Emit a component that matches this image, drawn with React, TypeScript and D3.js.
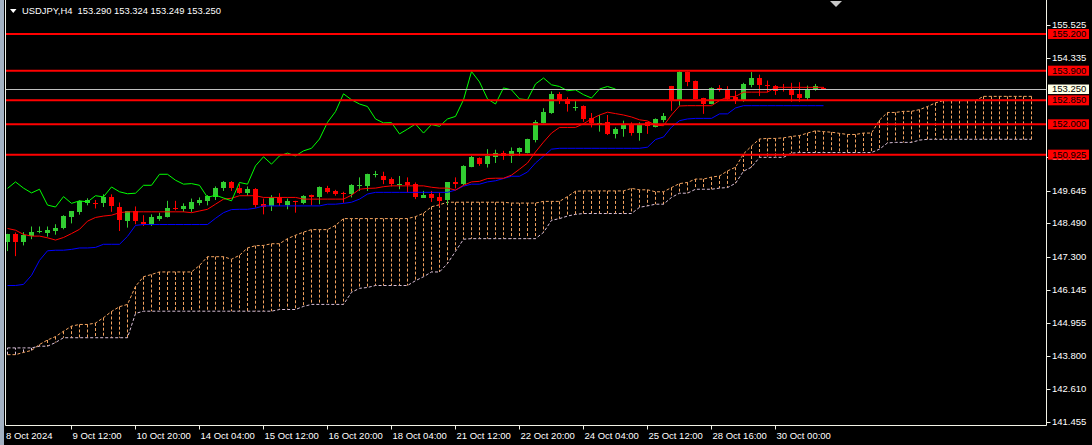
import React from 'react';
import * as d3 from 'd3';

// ---------- DATA (USDJPY H4, bar 0 = 8 Oct 2024 04:00) ----------
const open = [147.83,148.10,147.83,148.05,148.17,148.14,148.21,148.33,148.72,148.90,
149.23,149.23,149.20,149.43,149.06,148.58,148.92,148.54,148.43,148.66,
148.70,149.05,148.99,148.99,149.20,149.28,149.44,149.73,149.96,149.74,
149.56,149.70,149.17,149.09,149.44,149.14,149.28,149.23,149.49,149.43,
149.74,149.62,149.57,149.53,149.83,149.82,150.22,150.17,150.06,149.89,
149.94,149.88,149.39,149.53,149.41,149.32,149.96,149.88,150.49,150.79,
150.59,150.83,150.98,150.88,151.03,150.98,151.44,152.05,152.40,153.08,
152.90,152.62,152.66,152.22,152.05,152.09,151.66,151.83,152.01,151.69,
152.07,151.91,152.16,153.35,152.87,153.87,153.55,152.93,152.72,153.29,
153.25,152.98,152.84,153.40,153.64,153.41,153.35,153.25,153.25,153.08,
152.93,153.23,153.290];
const high = [148.12,148.17,148.18,148.38,148.38,148.38,148.46,148.78,148.93,149.31,
149.38,149.32,149.52,149.52,149.23,148.93,149.09,148.78,148.81,148.87,
149.29,149.29,149.20,149.37,149.41,149.49,149.80,149.99,149.99,149.88,
149.80,149.74,149.37,149.49,149.56,149.37,149.29,149.49,149.51,149.80,
149.82,149.68,149.61,149.88,150.12,150.25,150.35,150.32,150.12,150.17,
150.12,149.94,149.64,149.64,149.59,149.95,150.12,150.55,150.88,150.83,
151.12,151.10,151.06,151.18,151.18,151.49,152.15,152.57,153.17,153.14,
152.96,152.82,152.67,152.40,152.33,152.33,151.89,152.13,152.07,152.07,
152.09,152.21,152.40,153.36,153.90,153.87,153.55,152.94,153.31,153.39,
153.35,153.19,153.47,153.85,153.76,153.55,153.39,153.43,153.47,153.49,
153.37,153.43,153.324];
const low = [147.51,147.33,147.71,147.93,148.14,148.02,148.09,148.28,148.49,148.80,
149.13,149.02,149.07,148.90,148.22,148.34,148.46,148.40,148.40,148.58,
148.70,148.95,148.90,148.90,149.13,149.13,149.32,149.64,149.64,149.53,
149.47,149.05,148.81,148.93,149.11,148.99,148.87,149.17,149.13,149.17,
149.55,149.47,149.22,149.41,149.64,149.64,150.12,149.88,149.80,149.70,
149.59,149.35,149.39,149.25,149.09,149.17,149.73,149.84,150.48,150.53,
150.47,150.63,150.74,150.63,150.88,150.97,151.36,152.03,152.37,152.72,
152.45,152.48,152.09,151.89,151.74,151.62,151.50,151.56,151.60,151.42,
151.66,151.89,152.07,152.48,152.66,153.35,152.89,152.37,152.71,153.16,
152.87,152.72,152.80,153.31,153.00,153.14,153.04,153.16,152.80,152.80,
152.86,153.19,153.249];
const close = [148.10,147.83,148.07,148.19,148.22,148.26,148.34,148.74,148.92,149.28,
149.31,149.22,149.43,149.09,148.61,148.92,148.58,148.46,148.70,148.75,
149.05,148.99,149.11,149.25,149.32,149.47,149.73,149.96,149.74,149.57,
149.70,149.14,149.07,149.44,149.20,149.29,149.25,149.47,149.43,149.78,
149.61,149.54,149.56,149.84,149.84,150.23,150.23,150.02,149.88,149.90,
149.84,149.41,149.49,149.39,149.29,149.94,149.88,150.53,150.85,150.59,
150.88,150.98,150.88,151.06,151.15,151.48,152.07,152.45,153.08,152.87,
152.72,152.63,152.19,152.05,152.06,151.66,151.83,152.01,151.69,151.99,
151.93,152.19,152.28,152.87,153.87,153.50,152.90,152.72,153.29,153.22,
152.90,152.87,153.43,153.64,153.40,153.34,153.19,153.22,153.05,152.93,
153.25,153.34,153.250];

const tenkan = [148.31,148.25,148.10,148.04,148.04,147.98,147.90,147.99,148.13,148.28,
148.57,148.70,148.75,148.78,148.87,148.90,148.90,148.90,148.90,148.90,
148.90,148.90,148.90,148.87,148.93,148.99,149.17,149.35,149.38,149.47,
149.47,149.47,149.41,149.41,149.41,149.41,149.41,149.35,149.35,149.35,
149.35,149.35,149.35,149.49,149.70,149.73,149.74,149.79,149.82,149.82,
149.82,149.82,149.82,149.77,149.74,149.74,149.67,149.84,149.96,149.98,
150.08,150.09,150.09,150.20,150.41,150.63,151.02,151.37,151.69,151.89,
151.89,151.89,152.02,152.19,152.33,152.43,152.38,152.33,152.26,152.16,
152.12,151.97,151.95,152.33,152.65,152.66,152.66,152.66,152.66,152.84,
152.97,152.99,153.14,153.14,153.14,153.14,153.31,153.31,153.31,153.31,
153.31,153.31,153.31];
const kijun = [146.29,146.29,146.33,146.65,147.18,147.52,147.54,147.54,147.57,147.62,
147.62,147.64,147.75,147.75,147.75,148.03,148.42,148.45,148.45,148.45,
148.45,148.45,148.45,148.45,148.45,148.45,148.67,148.87,148.98,148.99,
148.99,149.03,149.11,149.11,149.11,149.11,149.11,149.11,149.11,149.11,
149.17,149.17,149.20,149.24,149.35,149.53,149.59,149.59,149.59,149.59,
149.59,149.59,149.59,149.59,149.59,149.59,149.67,149.81,149.88,149.88,
149.96,150.00,150.08,150.16,150.16,150.31,150.63,150.87,151.12,151.15,
151.15,151.15,151.15,151.15,151.15,151.15,151.15,151.15,151.15,151.15,
151.19,151.46,151.55,151.90,152.13,152.19,152.21,152.21,152.21,152.37,
152.37,152.58,152.66,152.66,152.66,152.66,152.66,152.66,152.66,152.66,
152.66,152.66,152.66];
const senkouA = [143.84,143.84,143.92,143.99,144.20,144.36,144.48,144.67,144.85,144.91,
144.91,144.96,145.15,145.37,145.54,145.62,146.26,146.60,146.68,146.77,
146.77,146.77,146.77,146.77,147.00,147.31,147.31,147.31,147.22,147.36,
147.62,147.70,147.71,147.77,147.77,147.95,148.07,148.18,148.27,148.27,
148.27,148.42,148.66,148.66,148.66,148.66,148.66,148.66,148.66,148.66,
148.66,148.73,148.85,149.08,149.15,149.24,149.24,149.24,149.24,149.24,
149.24,149.24,149.24,149.21,149.21,149.21,149.21,149.27,149.27,149.27,
149.44,149.63,149.64,149.64,149.64,149.64,149.64,149.64,149.73,149.68,
149.68,149.61,149.61,149.76,149.90,149.94,150.06,150.06,150.13,150.17,
150.35,150.48,150.95,151.23,151.48,151.50,151.50,151.52,151.57,151.60,
151.69,151.77,151.74,151.72,151.68,151.64,151.64,151.69,151.69,152.15,
152.42,152.42,152.46,152.46,152.52,152.63,152.76,152.84,152.84,152.84,
152.84,152.84,152.99,152.99,152.99,152.99,152.99,152.99,152.99];
const senkouB = [144.08,144.08,144.08,144.08,144.14,144.14,144.27,144.44,144.44,144.44,
144.44,144.44,144.44,144.44,144.44,144.44,145.30,145.38,145.38,145.38,
145.38,145.38,145.38,145.38,145.38,145.38,145.38,145.38,145.38,145.38,
145.38,145.38,145.38,145.38,145.44,145.44,145.44,145.55,145.62,145.62,
145.62,145.62,145.62,146.05,146.19,146.22,146.29,146.29,146.29,146.29,
146.29,146.46,146.60,146.77,146.77,147.07,147.50,147.93,147.95,147.95,
147.95,147.95,147.95,147.95,147.95,147.95,147.95,148.17,148.60,148.66,
148.75,148.81,148.84,148.84,148.84,148.84,148.84,148.84,148.84,149.06,
149.11,149.17,149.17,149.41,149.56,149.56,149.70,149.70,149.70,149.74,
149.76,149.91,150.34,150.48,150.83,150.83,150.83,150.83,150.98,151.00,
151.00,151.00,151.00,151.00,151.00,151.00,151.00,151.00,151.00,151.12,
151.34,151.36,151.36,151.36,151.44,151.47,151.47,151.47,151.47,151.47,
151.47,151.47,151.47,151.47,151.47,151.47,151.47,151.47,151.47];
const chikouShift = 26;

const levels = [155.200, 153.900, 152.850, 152.000, 150.925];
const bidPrice = 153.250;
const priceTicks = [155.525,154.335,150.835,149.645,148.490,147.300,146.145,144.955,143.800,142.610,141.455];
const timeTickIndex = [0,8,16,24,32,40,48,56,64,72,80,88,96];
const timeTickLabels = ['8 Oct 2024','9 Oct 12:00','10 Oct 20:00','14 Oct 04:00','15 Oct 12:00','16 Oct 20:00','18 Oct 04:00','21 Oct 12:00','22 Oct 20:00','24 Oct 04:00','25 Oct 12:00','28 Oct 16:00','30 Oct 00:00'];
const title = 'USDJPY,H4  153.290 153.324 153.249 153.250';

// ---------- LAYOUT ----------
const W = 1092, H = 445;
const left = 5.5, right = 1046.5, bottom = 425.5;
const FONT = '"Liberation Sans", Arial, sans-serif';

const x = d3.scaleLinear().domain([0, 128]).range([7.5, 7.5 + 8 * 128]);
const y = d3.scaleLinear().domain([141.455, 155.525]).range([422.0, 24.8]);

const UP = '#32CD32', DOWN = '#FF0000';

function linePath(arr: number[], start = 0) {
  return d3.line<number>().x((_, i) => x(i + start)).y(d => y(d))(arr) || '';
}

export default function App() {
  const chikou = close.slice(chikouShift);
  return (
    <svg width={W} height={H} style={{ position: 'absolute', left: 0, top: 0, display: 'block', background: '#000' }}>
      <rect x={0} y={0} width={W} height={H} fill="#000" />
      <defs>
        <clipPath id="plot"><rect x={left} y={0} width={right - left} height={bottom} /></clipPath>
      </defs>
      <rect x={0} y={0} width={4} height={H} fill="#A3B1C2" />

      <g clipPath="url(#plot)">
        {senkouA.map((a, i) => (
          <line key={'h' + i} x1={x(i)} x2={x(i)} y1={y(a)} y2={y(senkouB[i])}
            stroke={a >= senkouB[i] ? '#F4A460' : '#D8BFD8'} strokeWidth={1} strokeDasharray="3,2" />
        ))}
        <path d={linePath(senkouA)} fill="none" stroke="#F4A460" strokeWidth={1} strokeDasharray="3,2" />
        <path d={linePath(senkouB)} fill="none" stroke="#D8BFD8" strokeWidth={1} strokeDasharray="3,2" />

        {open.map((o, i) => {
          const c = close[i];
          const col = c >= o ? UP : DOWN;
          const y0 = Math.round(y(Math.max(o, c)));
          const y1 = Math.round(y(Math.min(o, c)));
          return (
            <g key={'c' + i}>
              <line x1={x(i)} x2={x(i)} y1={y(high[i])} y2={y(low[i])} stroke={col} strokeWidth={1} />
              <rect x={x(i) - 2.5} y={y0} width={5} height={Math.max(1, y1 - y0)} fill={col} />
            </g>
          );
        })}

        <path d={linePath(kijun)} fill="none" stroke="#0000FF" strokeWidth={1} />
        <path d={linePath(tenkan)} fill="none" stroke="#FF0000" strokeWidth={1} />
        <path d={linePath(chikou)} fill="none" stroke="#00FF00" strokeWidth={1} />

        <line x1={left} x2={right} y1={Math.round(y(bidPrice)) + 0.5} y2={Math.round(y(bidPrice)) + 0.5} stroke="#C0C0C0" strokeWidth={1} />
        {levels.map(v => (
          <line key={'l' + v} x1={left} x2={right} y1={y(v)} y2={y(v)} stroke="#FF0000" strokeWidth={2} />
        ))}
      </g>

      <line x1={left} x2={left} y1={0} y2={bottom} stroke="#F2F2E6" strokeWidth={1} />
      <line x1={left} x2={right} y1={bottom} y2={bottom} stroke="#F2F2E6" strokeWidth={1} />
      <line x1={right} x2={right} y1={0} y2={bottom} stroke="#F2F2E6" strokeWidth={1} />

      {priceTicks.map(v => (
        <g key={'p' + v}>
          <line x1={right} x2={right + 4} y1={Math.round(y(v)) + 0.5} y2={Math.round(y(v)) + 0.5} stroke="#F2F2E6" />
          <text x={1052} y={y(v) + 0.5} dominantBaseline="middle" fontFamily={FONT} fontSize={9.5} fill="#FFFFFF">{v.toFixed(3)}</text>
        </g>
      ))}
      {levels.map(v => (
        <g key={'lb' + v}>
          <rect x={1048} y={y(v) - 5} width={41} height={10} fill="#FF0000" />
          <text x={1052} y={y(v) + 0.5} dominantBaseline="middle" fontFamily={FONT} fontSize={9.5} fill="#000">{v.toFixed(3)}</text>
        </g>
      ))}
      <rect x={1048} y={y(bidPrice) - 4.5} width={41} height={9.5} fill="#FFFFE6" />
      <text x={1052} y={y(bidPrice) + 0.5} dominantBaseline="middle" fontFamily={FONT} fontSize={9.5} fill="#000">{bidPrice.toFixed(3)}</text>

      {timeTickIndex.map((k, j) => (
        <g key={'t' + k}>
          {j > 0 && <line x1={x(k)} x2={x(k)} y1={bottom} y2={bottom + 4} stroke="#F2F2E6" />}
          <text x={j === 0 ? 6 : x(k) + 1} y={439} fontFamily={FONT} fontSize={9.5} fill="#FFFFFF">{timeTickLabels[j]}</text>
        </g>
      ))}

      <polygon points="10,9 16.5,9 13.25,13" fill="#FFFFFF" />
      <text x={22} y={14} fontFamily={FONT} fontSize={9.4} fill="#FFFFFF" style={{ whiteSpace: 'pre' }}>{title}</text>
      <polygon points="830,1 842,1 836,7" fill="#C8C8C8" />
    </svg>
  );
}
